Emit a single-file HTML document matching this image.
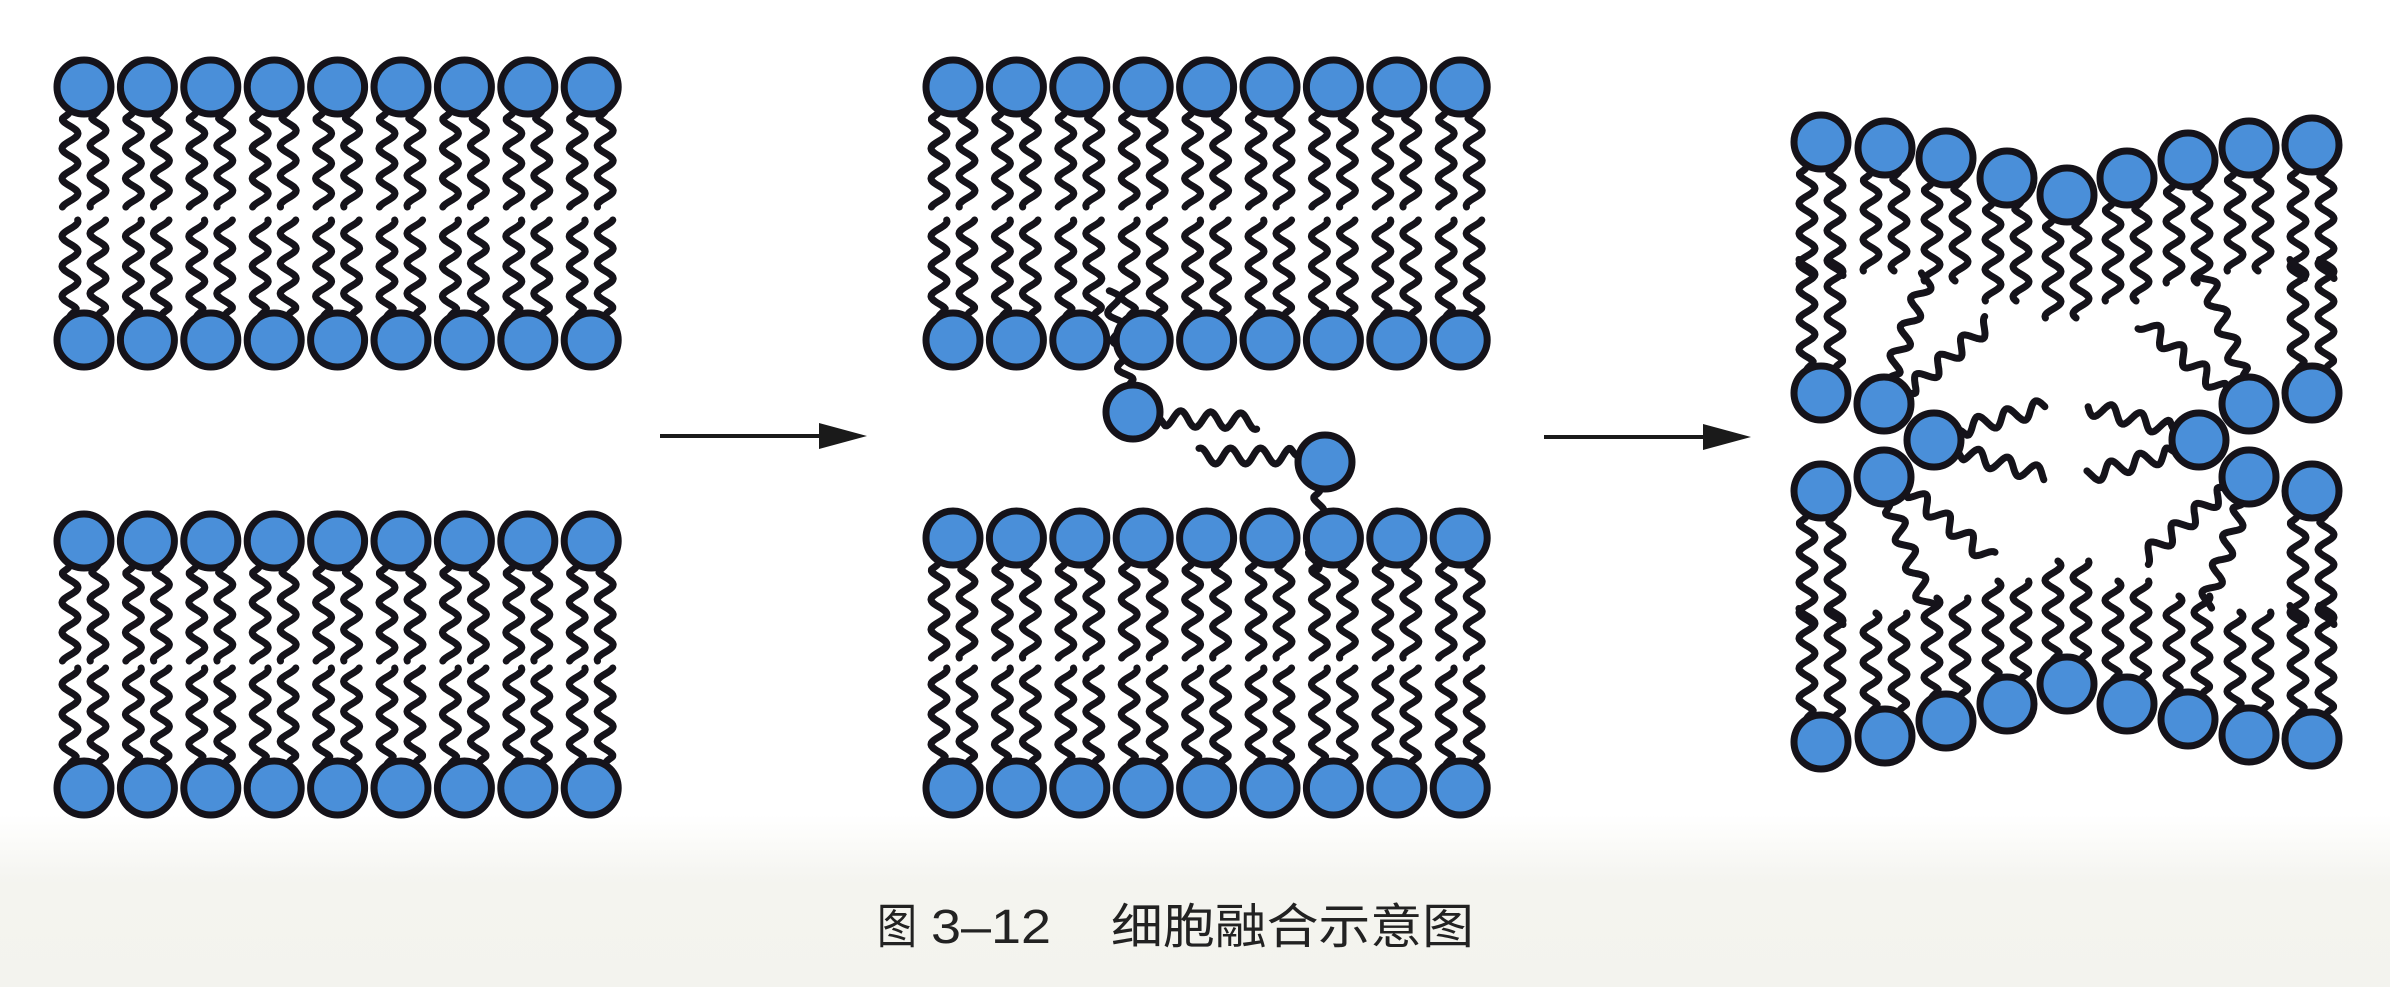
<!DOCTYPE html>
<html><head><meta charset="utf-8"><style>
html,body{margin:0;padding:0;background:#fff;}
body{width:2390px;height:987px;overflow:hidden;position:relative;}
#bg{position:absolute;left:0;top:815px;width:2390px;height:172px;background:linear-gradient(#ffffff,#f4f4ef 40%,#f3f3ee);}
svg{position:absolute;left:0;top:0;}
</style></head><body>
<div id="bg"></div>
<svg id="s" width="2390" height="987" viewBox="0 0 2390 987" xmlns="http://www.w3.org/2000/svg">
<g id="tails" fill="none" stroke="#15131a" stroke-width="7" stroke-linecap="round" stroke-linejoin="round"></g>
<g id="heads" fill="#4a8fd9" stroke="#15131a" stroke-width="7"></g>
<g fill="#1a1a1a">
<line x1="660" y1="436" x2="825" y2="436" stroke="#1a1a1a" stroke-width="4"/>
<polygon points="819,423 867,436 819,449"/>
<line x1="1544" y1="437" x2="1708" y2="437" stroke="#1a1a1a" stroke-width="4"/>
<polygon points="1703,424 1751,437 1703,450"/>
</g>
<g font-family="'Liberation Sans','Noto Sans CJK SC',sans-serif" fill="#222" font-size="48">
<text x="877" y="943" textLength="40" lengthAdjust="spacingAndGlyphs">图</text>
<text x="931" y="943" textLength="120" lengthAdjust="spacingAndGlyphs">3–12</text>
<text x="1111" y="943" textLength="363" lengthAdjust="spacingAndGlyphs">细胞融合示意图</text>
</g>
</svg>
<script>
(function(){
var T=document.getElementById('tails'),H=document.getElementById('heads'),NS='http://www.w3.org/2000/svg';
function wave(x,y,ang,len,amp,wl,ph){amp=amp||8;wl=wl||30;ph=ph||0;
 var a=ang*Math.PI/180,dx=Math.cos(a),dy=Math.sin(a),nx=-dy,ny=dx,d='';
 for(var t=0;t<=len;t+=1.5){var o=amp*Math.sin(2*Math.PI*t/wl+ph)*Math.min(1,t/8);
  var px=x+dx*t+nx*o,py=y+dy*t+ny*o;d+=(t?'L':'M')+px.toFixed(1)+' '+py.toFixed(1);}
 var p=document.createElementNS(NS,'path');p.setAttribute('d',d);T.appendChild(p);}
function head(x,y,r){var c=document.createElementNS(NS,'circle');c.setAttribute('cx',x);c.setAttribute('cy',y);c.setAttribute('r',r||27);H.appendChild(c);}
function pair(x,y,ang,len){var a=ang*Math.PI/180,dx=Math.cos(a),dy=Math.sin(a),nx=-dy,ny=dx;
 wave(x+dx*24+nx*14,y+dy*24+ny*14,ang,len,8,30,0);
 wave(x+dx*24-nx*14,y+dy*24-ny*14,ang,len,8,30,0.6);}
function lip(x,y,ang,len){pair(x,y,ang,len);head(x,y);}
var i,x;
for(i=0;i<9;i++){x=84+63.4*i;
 lip(x,87,90,97);lip(x,340,-90,97);lip(x,541,90,97);lip(x,788,-90,97);}
for(i=0;i<9;i++){x=953+63.4*i;
 lip(x,87,90,97);lip(x,340,-90,97);lip(x,538,90,97);lip(x,788,-90,97);}
wave(1128,388,-100,100,7,28,0);
wave(1158,418,2,100,8,30,0);
head(1133,412);
wave(1320,490,95,80,6,28,0);
wave(1298,456,180,100,8,30,0);
head(1325,462);
var topRow=[[1821,142],[1885,148],[1946,158],[2007,178],[2067,195],[2127,178],[2188,160],[2249,148],[2312,145]];
var botRow=[[1821,742],[1885,736],[1946,721],[2007,704],[2067,684],[2127,704],[2188,719],[2249,735],[2312,739]];
topRow.forEach(function(p){pair(p[0],p[1],90,(p[0]==1821||p[0]==2312)?110:100);});
botRow.forEach(function(p){pair(p[0],p[1],-90,(p[0]==1821||p[0]==2312)?110:100);});
function side(m){function X(x){return m?4133-x:x;}function A(a){return m?180-a:a;}
 pair(X(1821),393,A(-90),110);
 wave(X(1884)+(m?-6:6),378,A(-70),110,8,30,0);
 wave(X(1884)+(m?-22:22),393,A(-40),110,8,30,0.6);
 wave(X(1934)+(m?-24:24),430,A(-15),90,8,30,0);
 wave(X(1934)+(m?-24:24),452,A(15),90,8,30,0.6);
 pair(X(1821),491,A(90),110);
 wave(X(1884)+(m?-6:6),503,A(70),110,8,30,0);
 wave(X(1884)+(m?-22:22),488,A(40),110,8,30,0.6);
}
side(false);side(true);
topRow.forEach(function(p){head(p[0],p[1]);});
botRow.forEach(function(p){head(p[0],p[1]);});
[[1821,393],[1884,404],[1821,491],[1884,477],[1934,440]].forEach(function(p){head(p[0],p[1]);head(4133-p[0],p[1]);});
})();
</script>
</body></html>
